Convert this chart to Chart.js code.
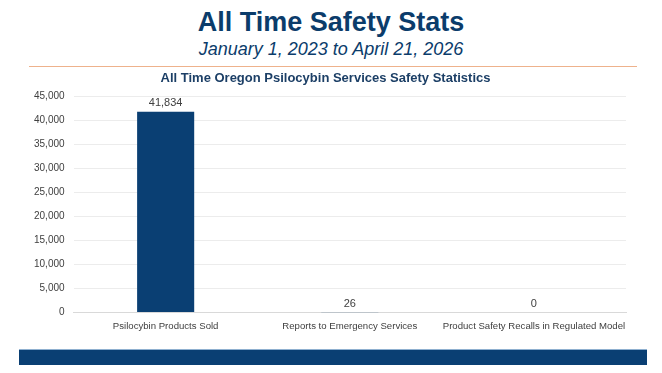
<!DOCTYPE html>
<html>
<head>
<meta charset="utf-8">
<script src="https://cdn.jsdelivr.net/npm/chart.js@4"></script>
<style>
  body { margin: 0; width: 662px; height: 373px; background: #fff; position: relative; overflow: hidden; font-family: "Liberation Sans", Arial, sans-serif; }
  #head { position: absolute; left: 0; top: 6px; width: 662px; text-align: center; color: #0b3c6b; }
  #head h1 { margin: 0; font-size: 27px; font-weight: bold; line-height: 32px; }
  #head h2 { margin: 0; font-size: 18px; font-weight: normal; font-style: italic; line-height: 22px; }
  #rule { position: absolute; left: 29px; top: 66px; width: 608px; height: 1px; background: #eeb28c; }
  #box { position: absolute; left: 0; top: 66px; width: 662px; height: 278px; }
  #band { position: absolute; left: 19px; top: 349px; width: 628px; height: 15px; background: #0a3f73; border-top: 1px solid #8fb0d0; }
</style>
</head>
<body>
<div id="head">
  <h1>All Time Safety Stats</h1>
  <h2>January 1, 2023 to April 21, 2026</h2>
</div>
<div id="rule"></div>
<div id="box"><canvas id="myChart"></canvas></div>
<div id="band"></div>
<script>
var categories = ["Psilocybin Products Sold", "Reports to Emergency Services", "Product Safety Recalls in Regulated Model"];
var counts = [41834, 26, 0];
var yTicks = [0, 5000, 10000, 15000, 20000, 25000, 30000, 35000, 40000, 45000];

var barLabels = {
  id: 'barLabels',
  afterDatasetsDraw: function(chart) {
    var ctx = chart.ctx;
    var meta = chart.getDatasetMeta(0);
    ctx.save();
    ctx.font = '11px "Liberation Sans", Arial, sans-serif';
    ctx.fillStyle = '#404040';
    ctx.textAlign = 'center';
    ctx.textBaseline = 'bottom';
    meta.data.forEach(function(bar, i) {
      ctx.fillText(counts[i].toLocaleString('en-US'), bar.x, bar.y - 3);
    });
    ctx.restore();
  }
};

var ctx = document.getElementById("myChart").getContext('2d');
var myChart = new Chart(ctx, {
  type: 'bar',
  data: {
    labels: categories,
    datasets: [{
      label: 'All Time',
      data: counts,
      backgroundColor: "#0a3f73",
      borderWidth: 0,
      categoryPercentage: 1,
      barPercentage: 0.31
    }]
  },
  plugins: [barLabels],
  options: {
    responsive: true,
    maintainAspectRatio: false,
    animation: false,
    layout: { padding: { left: 25, right: 36, top: 0, bottom: 4 } },
    plugins: {
      legend: { display: false },
      tooltip: { enabled: false },
      title: {
        display: true,
        text: 'All Time Oregon Psilocybin Services Safety Statistics',
        color: '#1c3f66',
        font: { family: '"Liberation Sans Narrow", "Liberation Sans", Arial', size: 13, weight: 'bold' },
        padding: { top: 5, bottom: 10 }
      }
    },
    scales: {
      x: {
        grid: { display: false, drawTicks: false },
        border: { color: '#d9d9d9' },
        ticks: { color: '#404040', font: { family: '"Liberation Sans", Arial', size: 9.6 }, maxRotation: 0, autoSkip: false, padding: 8 }
      },
      y: {
        min: 0,
        max: 45000,
        afterBuildTicks: function(axis) { axis.ticks = yTicks.map(function(v) { return { value: v }; }); },
        grid: { color: '#ececec', drawTicks: false },
        border: { display: false },
        ticks: {
          color: '#404040',
          padding: 9,
          font: { family: '"Liberation Sans", Arial', size: 10 },
          callback: function(v) { return v.toLocaleString('en-US'); }
        }
      }
    }
  }
});
</script>
</body>
</html>
